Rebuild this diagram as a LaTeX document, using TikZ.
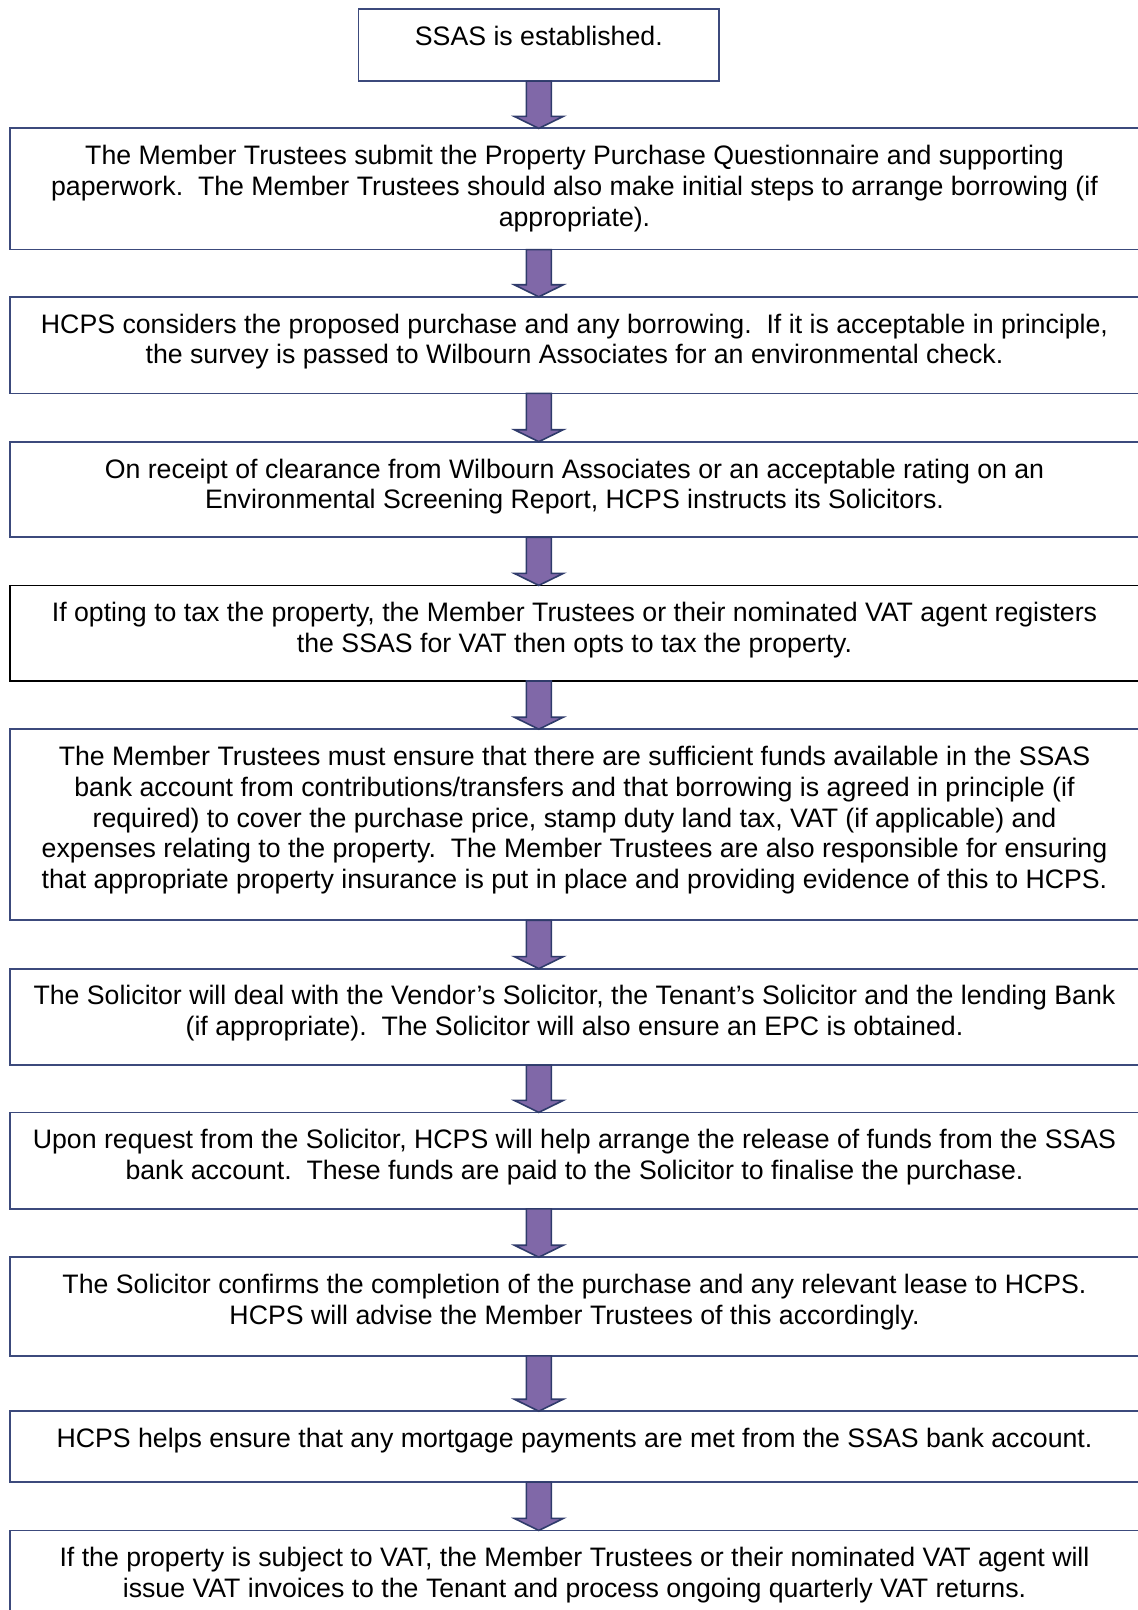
\documentclass[tikz,border=0pt]{standalone}
\usepackage{fontspec}
\setmainfont{Liberation Sans}
\usetikzlibrary{positioning,calc}
\definecolor{boxline}{HTML}{3C4A7C}
\definecolor{arrowfill}{HTML}{8068A8}
\definecolor{arrowline}{HTML}{2F3B6B}
\tikzset{%
  stepbox/.style={draw=boxline, line width=0.9pt, inner sep=0pt, outer sep=0pt, anchor=north west,%
    font=\fontsize{13.35}{15.4}\selectfont},%
  arrowbody/.style={fill=arrowfill, draw=arrowline, line width=0.8pt, line join=miter}%
}
% text of a box: width, height, lines
\newcommand\steptext[3]{\parbox[c][#2][t]{#1}{\centering\vspace*{7.4pt}\strut #3\par}}
% block arrow from the bottom of one box to the top of the next
\newcommand\flowarrow[2]{%
\draw[arrowbody] let \p1=(b0.south), \p2=(#1.south), \p3=(#2.north) in%
  (\x1-6.25pt,\y2) -- (\x1+6.25pt,\y2) -- (\x1+6.25pt,\y3+6pt) -- (\x1+12.25pt,\y3+6pt)%
  -- (\x1,\y3) -- (\x1-12.25pt,\y3+6pt) -- (\x1-6.25pt,\y3+6pt) -- cycle;}
\begin{document}
\begin{tikzpicture}
\useasboundingbox (0,0) rectangle (568.5pt,-805pt);%
\def\wide{564.5pt}%
%
\node[stepbox, anchor=north] (b0) at (269.4pt,-4.6pt) {\steptext{180.25pt}{36pt}{SSAS is established.}};%
\node[stepbox] (b1) at (5pt,-64.2pt) {\steptext{\wide}{60.6pt}{The Member Trustees submit the Property Purchase Questionnaire and supporting\\
  paperwork.\ \ The Member Trustees should also make initial steps to arrange borrowing (if\\
  appropriate).}};%
\node[stepbox, below=23.6pt of b1.south west, anchor=north west] (b2) {\steptext{\wide}{48.3pt}{HCPS considers the proposed purchase and any borrowing.\ \ If it is acceptable in principle,\\
  the survey is passed to Wilbourn Associates for an environmental check.}};%
\node[stepbox, below=24.15pt of b2.south west, anchor=north west] (b3) {\steptext{\wide}{47.75pt}{On receipt of clearance from Wilbourn Associates or an acceptable rating on an\\
  Environmental Screening Report, HCPS instructs its Solicitors.}};%
\node[stepbox, draw=black, below=24.1pt of b3.south west, anchor=north west] (b4) {\steptext{\wide}{47.8pt}{If opting to tax the property, the Member Trustees or their nominated VAT agent registers\\
  the SSAS for VAT then opts to tax the property.}};%
\node[stepbox, below=24.1pt of b4.south west, anchor=north west] (b5) {\steptext{\wide}{95.55pt}{The Member Trustees must ensure that there are sufficient funds available in the SSAS\\
  bank account from contributions/transfers and that borrowing is agreed in principle (if\\
  required) to cover the purchase price, stamp duty land tax, VAT (if applicable) and\\
  expenses relating to the property.\ \ The Member Trustees are also responsible for ensuring\\
  that appropriate property insurance is put in place and providing evidence of this to HCPS.}};%
\node[stepbox, below=24.15pt of b5.south west, anchor=north west] (b6) {\steptext{\wide}{48.25pt}{The Solicitor will deal with the Vendor’s Solicitor, the Tenant’s Solicitor and the lending Bank\\
  (if appropriate).\ \ The Solicitor will also ensure an EPC is obtained.}};%
\node[stepbox, below=23.65pt of b6.south west, anchor=north west] (b7) {\steptext{\wide}{48.25pt}{Upon request from the Solicitor, HCPS will help arrange the release of funds from the SSAS\\
  bank account.\ \ These funds are paid to the Solicitor to finalise the purchase.}};%
\node[stepbox, below=24.15pt of b7.south west, anchor=north west] (b8) {\steptext{\wide}{49.3pt}{The Solicitor confirms the completion of the purchase and any relevant lease to HCPS.\\
  HCPS will advise the Member Trustees of this accordingly.}};%
\node[stepbox, below=27.7pt of b8.south west, anchor=north west] (b9) {\steptext{\wide}{35.45pt}{HCPS helps ensure that any mortgage payments are met from the SSAS bank account.}};%
\node[stepbox, below=24.15pt of b9.south west, anchor=north west] (b10) {\steptext{\wide}{50pt}{If the property is subject to VAT, the Member Trustees or their nominated VAT agent will\\
  issue VAT invoices to the Tenant and process ongoing quarterly VAT returns.}};%
%
\flowarrow{b0}{b1}%
\flowarrow{b1}{b2}%
\flowarrow{b2}{b3}%
\flowarrow{b3}{b4}%
\flowarrow{b4}{b5}%
\flowarrow{b5}{b6}%
\flowarrow{b6}{b7}%
\flowarrow{b7}{b8}%
\flowarrow{b8}{b9}%
\flowarrow{b9}{b10}%
\end{tikzpicture}
\end{document}
